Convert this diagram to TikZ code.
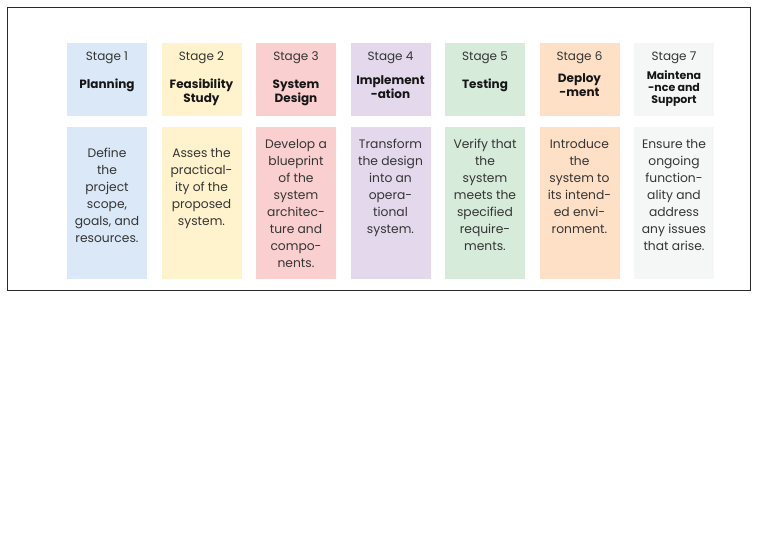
\documentclass[tikz,border=0pt]{standalone}
\usepackage{fontspec}
\setmainfont{Poppins}
\usetikzlibrary{positioning}
\definecolor{frame}{HTML}{2A2A2A}
\definecolor{ink}{HTML}{161616}
\definecolor{ink2}{HTML}{353535}
\definecolor{sblue}{HTML}{DAE8F7}
\definecolor{syellow}{HTML}{FFF3CD}
\definecolor{spink}{HTML}{F9CFCF}
\definecolor{slilac}{HTML}{E3D8EC}
\definecolor{sgreen}{HTML}{D6EBDA}
\definecolor{speach}{HTML}{FEE0C6}
\definecolor{sgrey}{HTML}{F5F7F6}

\begin{document}
\begin{tikzpicture}[x=1pt, y=-1pt,
  headbox/.style={fill=#1, minimum width=80pt, minimum height=73pt, inner sep=0pt},
  bodybox/.style={fill=#1, minimum width=80pt, minimum height=152pt, inner sep=0pt},
  stagelbl/.style={font=\fontsize{12}{14}\selectfont, text=ink2},
  ttl/.style={font=\fontsize{#1}{14}\selectfont\bfseries, text=ink, align=center, inner sep=0pt},
  txt/.style={font=\fontsize{12.3}{17}\selectfont, text=ink2, align=center, inner sep=0pt, anchor=north}]

\useasboundingbox (0,0) rectangle (768,545);
\draw[frame, line width=0.8pt] (7,7) rectangle (750,290);

% one column per stage: colour, title size, title, title y, text, text top
\foreach \i/\col/\tsz/\ttltext/\ttly/\bodytext/\bodyy in {
  1/sblue/12/{Planning}/85/{Define\\the\\project\\scope,\\goals, and\\resources.}/148,
  2/syellow/12/{Feasibility\\Study}/92.5/{Asses the\\practical-\\ity of the\\proposed\\system.}/148,
  3/spink/12/{System\\Design}/92.5/{Develop a\\blueprint\\of the\\system\\architec-\\ture and\\compo-\\nents.}/139,
  4/slilac/12/{Implement\\-ation}/87/{Transform\\the design\\into an\\opera-\\tional\\system.}/139,
  5/sgreen/12/{Testing}/85/{Verify that\\the\\system\\meets the\\specified\\require-\\ments.}/139,
  6/speach/12/{Deploy\\-ment}/85/{Introduce\\the\\system to\\its intend-\\ed envi-\\ronment.}/139,
  7/sgrey/11/{Maintena\\-nce and\\Support}/88.5/{Ensure the\\ongoing\\function-\\ality and\\address\\any issues\\that arise.}/139}
{
  \node[headbox=\col] (head\i) at ({107+94.5*(\i-1)},79.5) {};
  \node[bodybox=\col] (body\i) at ({107+94.5*(\i-1)},203) {};
  \node[stagelbl] (stage\i) at ({107+94.5*(\i-1)},58) {Stage \i};
  \ifnum\i=7
    \node[ttl=\tsz, font=\fontsize{11}{12.3}\selectfont\bfseries] (title\i) at ({107+94.5*(\i-1)},\ttly) {\ttltext};
  \else
    \node[ttl=\tsz] (title\i) at ({107+94.5*(\i-1)},\ttly) {\ttltext};
  \fi
  \node[txt] (text\i) at ({107+94.5*(\i-1)},\bodyy) {\bodytext};
}
\end{tikzpicture}
\end{document}
